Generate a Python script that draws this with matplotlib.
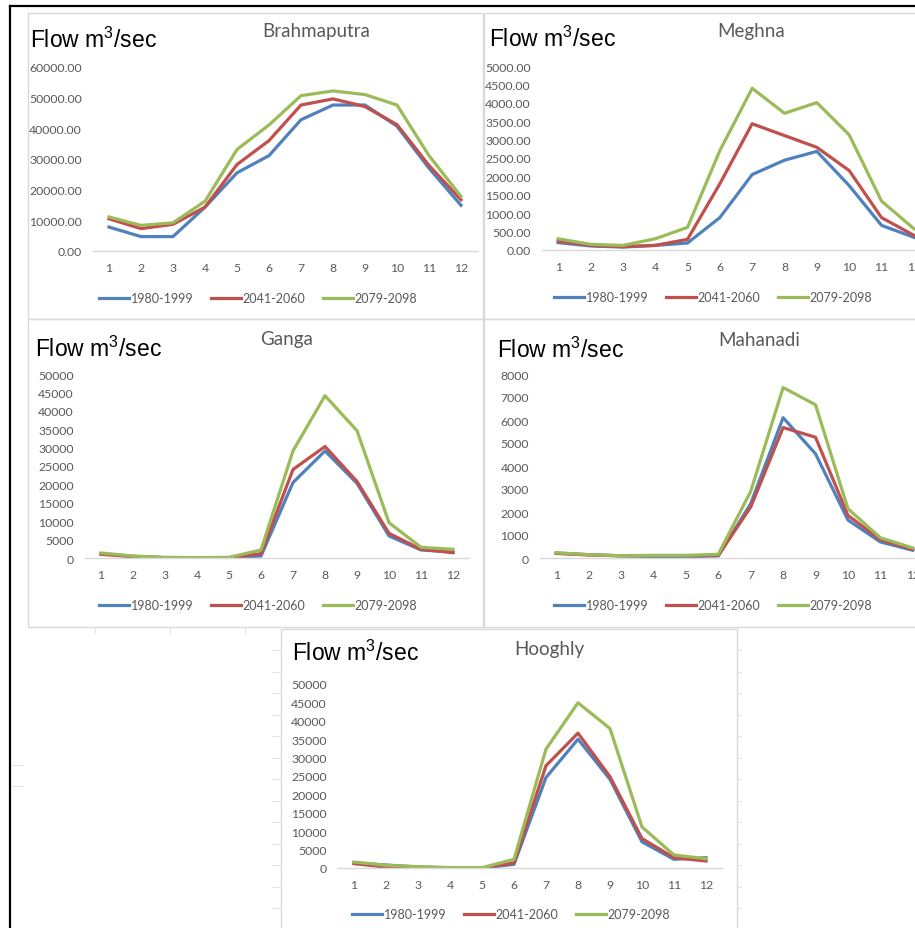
import matplotlib.pyplot as plt
from matplotlib.patches import Rectangle
from matplotlib.lines import Line2D
from matplotlib.ticker import FormatStrFormatter

# monthly mean flow (m3/sec) for three periods, per river
months = list(range(1, 13))
periods = ['1980-1999', '2041-2060', '2079-2098']

brahmaputra_base = [7800, 4700, 4700, 14300, 25500, 31100, 42800, 47600, 47600, 40700, 27000, 14900]
brahmaputra_mid = [10500, 7300, 8700, 14300, 28200, 36000, 47600, 49600, 47100, 41200, 27900, 16700]
brahmaputra_end = [11100, 8350, 9200, 16200, 33100, 41100, 50650, 52200, 51000, 47600, 31100, 17800]

meghna_base = [200, 110, 80, 125, 190, 880, 2050, 2440, 2680, 1750, 670, 345]
meghna_mid = [245, 125, 90, 125, 290, 1800, 3430, 3110, 2790, 2160, 880, 400]
meghna_end = [305, 155, 125, 305, 615, 2700, 4395, 3715, 4005, 3130, 1330, 580]

ganga_base = [1180, 450, 90, 90, 90, 540, 20500, 29100, 20300, 6000, 2180, 1630]
ganga_mid = [1000, 360, 90, 90, 90, 1180, 24050, 30300, 20800, 6700, 2360, 1450]
ganga_end = [1360, 540, 180, 90, 180, 2180, 29100, 44100, 34600, 9600, 2900, 2360]

mahanadi_base = [215, 145, 90, 60, 60, 90, 2360, 6100, 4530, 1650, 700, 335]
mahanadi_mid = [200, 130, 100, 100, 100, 115, 2215, 5670, 5250, 1850, 800, 375]
mahanadi_end = [230, 145, 100, 115, 115, 160, 2900, 7410, 6660, 2140, 880, 435]

hooghly_base = [1360, 820, 270, 90, 0, 1000, 24600, 35000, 24100, 7100, 2360, 2800]
hooghly_mid = [1180, 270, 90, 0, 0, 1360, 27800, 36650, 24800, 8000, 2800, 1900]
hooghly_end = [1630, 730, 360, 90, 90, 2360, 32300, 44900, 37900, 11150, 3540, 2540]

colors = ['#4F81BD', '#C0504D', '#9BBB59']
tick_grey = '#595959'
frame_grey = '#D9D9D9'

plt.rcParams['mathtext.fontset'] = 'custom'
plt.rcParams['mathtext.rm'] = 'Liberation Sans'

W, H = 915, 929
fig = plt.figure(figsize=(W / 100, H / 100), dpi=100)


def px_box(x0, y0, x1, y1):
    return [x0 / W, 1 - y1 / H, (x1 - x0) / W, (y1 - y0) / H]


def fx(x):
    return x / W


def fy(y):
    return 1 - y / H


# sheet background: outer border and faint cell marks
fig.add_artist(Line2D([fx(10), fx(915)], [fy(7), fy(7)], color='black', lw=1.6))
fig.add_artist(Line2D([fx(10), fx(10)], [fy(7), fy(929)], color='black', lw=1.6))
for gx in [95, 170, 245]:
    fig.add_artist(Line2D([fx(gx), fx(gx)], [fy(628), fy(634)], color='#E3E3E3', lw=0.8))
for k in range(13):
    gy = 651 + 21.5 * k
    fig.add_artist(Line2D([fx(272), fx(281)], [fy(gy), fy(gy)], color='#E3E3E3', lw=0.8))
    fig.add_artist(Line2D([fx(737), fx(741)], [fy(gy), fy(gy)], color='#E3E3E3', lw=0.8))
for gy in [766, 787]:
    fig.add_artist(Line2D([fx(12), fx(23)], [fy(gy), fy(gy)], color='#E3E3E3', lw=0.8))

# chart frames
for x0, y0, x1, y1 in [(28, 14, 483, 320), (484, 14, 920, 320), (28, 320, 483, 628),
                       (484, 320, 920, 628), (281, 630, 737, 935)]:
    fig.add_artist(Rectangle((fx(x0), fy(y1)), (x1 - x0) / W, (y1 - y0) / H,
                             transform=fig.transFigure, facecolor='none',
                             edgecolor=frame_grey, lw=1.0))

panels = [
    # name, series, ymax, ystep, fmt, axes box, title xy, label xy, legend xy
    ('Brahmaputra', [brahmaputra_base, brahmaputra_mid, brahmaputra_end], 60000, 10000, '%.2f',
     (93, 68, 477, 252), (316, 32), (30, 40), (258, 299)),
    ('Meghna', [meghna_base, meghna_mid, meghna_end], 5000, 500, '%.2f',
     (542, 67, 930, 251), (751, 32), (489, 39), (713, 298)),
    ('Ganga', [ganga_base, ganga_mid, ganga_end], 50000, 5000, '%d',
     (85, 375, 469, 559), (287, 340), (35, 349), (258, 606)),
    ('Mahanadi', [mahanadi_base, mahanadi_mid, mahanadi_end], 8000, 1000, '%d',
     (540, 375, 929, 559), (759, 340), (497, 350), (713, 606)),
    ('Hooghly', [hooghly_base, hooghly_mid, hooghly_end], 50000, 5000, '%d',
     (338, 685, 722, 869), (549, 650), (292, 653), (511, 915)),
]

for name, series, ymax, ystep, fmt, box, title_xy, label_xy, legend_xy in panels:
    ax = fig.add_axes(px_box(*box))
    for vals, c, p in zip(series, colors, periods):
        ax.plot(months, vals, color=c, lw=2.3, label=p, solid_joinstyle='round')
    ax.set_xlim(0.5, 12.5)
    ax.set_ylim(0, ymax)
    ax.set_xticks(months)
    ax.set_yticks(range(0, ymax + 1, ystep))
    ax.yaxis.set_major_formatter(FormatStrFormatter(fmt))
    for side in ['top', 'right', 'left']:
        ax.spines[side].set_visible(False)
    ax.spines['bottom'].set_color(frame_grey)
    ax.spines['bottom'].set_linewidth(1.0)
    ax.tick_params(axis='both', length=0, labelsize=8.8, labelcolor=tick_grey)
    ax.tick_params(axis='y', pad=8)
    ax.tick_params(axis='x', pad=8)
    for t in ax.get_xticklabels() + ax.get_yticklabels():
        t.set_fontfamily('Lato')
    ax.patch.set_alpha(0)

    fig.text(fx(title_xy[0]), fy(title_xy[1]), name, ha='center', va='center',
             fontsize=13.5, color=tick_grey, family='Lato')
    fig.text(fx(label_xy[0]), fy(label_xy[1]), 'Flow m$^\\mathregular{3}$/sec',
             ha='left', va='center', fontsize=16.5, color='black', family='Liberation Sans')
    ax.legend(loc='center', bbox_to_anchor=(fx(legend_xy[0]), fy(legend_xy[1])),
              bbox_transform=fig.transFigure, ncol=3, frameon=False,
              prop={'family': 'Lato', 'size': 9}, labelcolor=tick_grey,
              handlelength=2.4, handletextpad=0.15, columnspacing=1.4)

fig.savefig('out.png', dpi=100)
